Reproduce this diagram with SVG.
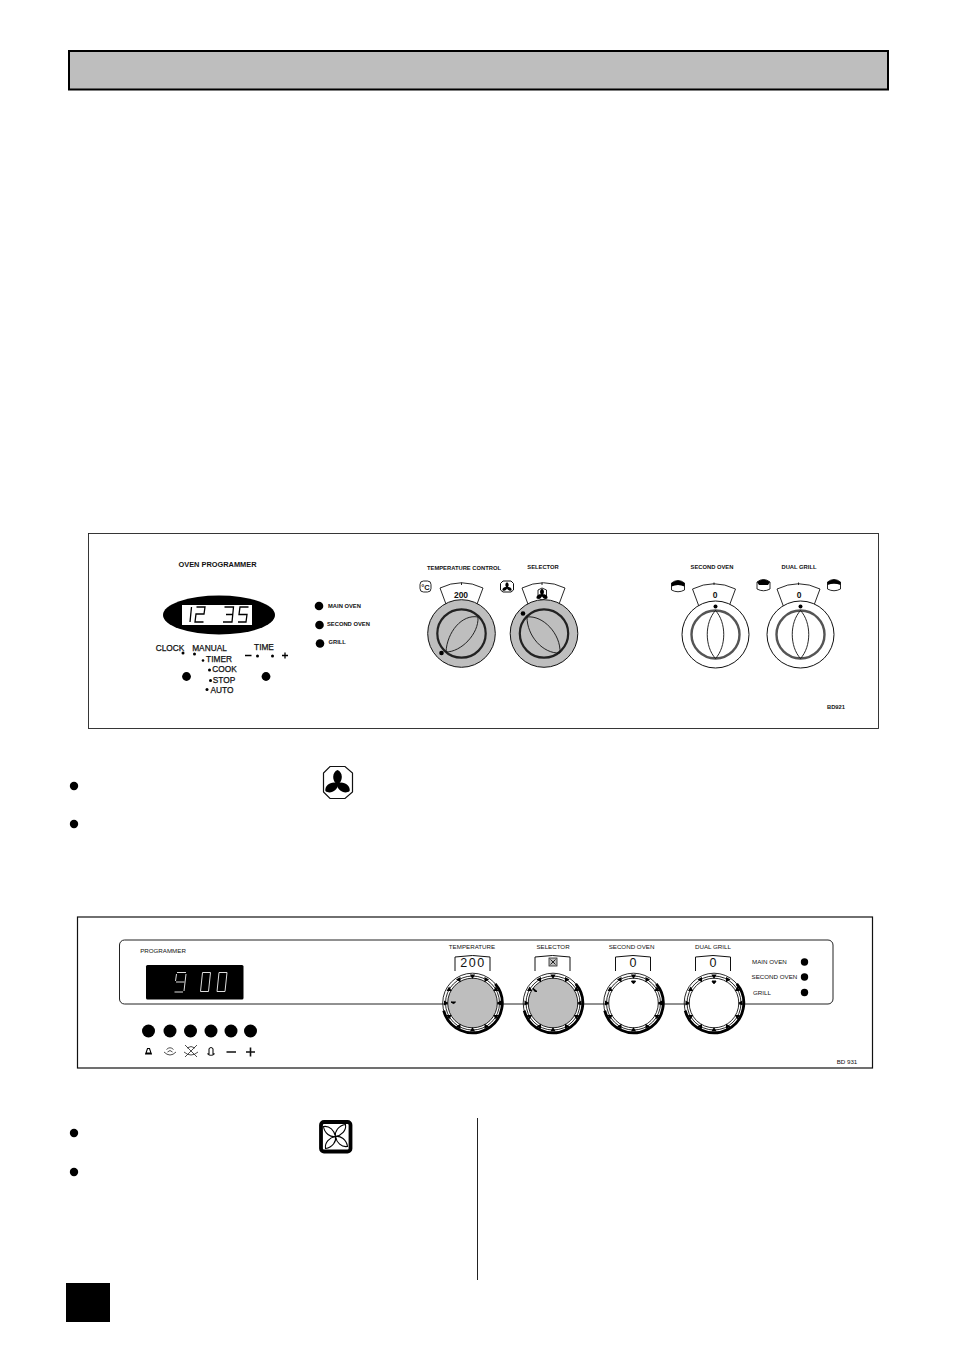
<svg xmlns="http://www.w3.org/2000/svg" xmlns:xlink="http://www.w3.org/1999/xlink" width="954" height="1351" viewBox="0 0 954 1351">
<style>
text{font-family:"Liberation Sans",Arial,sans-serif;fill:#111;text-anchor:middle}
.a{font-size:5.8px;font-weight:bold}
.b{font-size:8.300px;stroke:#111;stroke-width:.25}
.c{font-size:6.200px}
.l{text-anchor:start}
.thin{fill:none;stroke:#111;stroke-width:.9}
.seg{fill:none;stroke:#000;stroke-width:1.300}
.segw{fill:none;stroke:#ddd;stroke-width:1}
.k{fill:#000}
</style>
<defs>
<g id="knob1">
<circle r="33.800" fill="#bebebe" stroke="#111" stroke-width="1"/>
<circle r="24.200" fill="#bebebe" stroke="#222" stroke-width="2.200"/>
</g>
<g id="knob1w">
<circle r="33.500" fill="#fff" stroke="#111" stroke-width="1"/>
<circle r="24" fill="#fff" stroke="#555" stroke-width="2.400"/>
<path class="thin" d="M0-24C-11-12-11 12 0 24C11 12 11-12 0-24Z"/>
<circle cy="-28" r="2" class="k"/>
</g>
<path id="tab1" d="M-15-28-21.500-45.500Q0-56 21.500-45.500L15-28" fill="#fff" stroke="#111" stroke-width=".9"/>
<g id="ring">
<circle r="29.800" class="thin"/>
<circle r="27" class="thin"/>
<circle r="24.800" class="thin"/>
<path d="M22.800-19.200A29.800 29.800 0 1 1-28.800 7.700" fill="none" stroke="#000" stroke-width="2.800"/>
<g class="k">
<path id="t" d="M-2.600-28.500H2.600L0-24Z"/>
<use xlink:href="#t" transform="rotate(30)"/><use xlink:href="#t" transform="rotate(60)"/><use xlink:href="#t" transform="rotate(90)"/><use xlink:href="#t" transform="rotate(120)"/><use xlink:href="#t" transform="rotate(150)"/><use xlink:href="#t" transform="rotate(180)"/><use xlink:href="#t" transform="rotate(210)"/><use xlink:href="#t" transform="rotate(240)"/><use xlink:href="#t" transform="rotate(270)"/><use xlink:href="#t" transform="rotate(300)"/><use xlink:href="#t" transform="rotate(330)"/>
</g>
</g>
<path id="tab2" d="M-17.500 0V-14Q0-17 17.500-14V0" fill="#fff" stroke="#111" stroke-width="1"/>
<g id="fan"><path id="blade" d="M0 1C-6-3-5.500-12 0-14C5.500-12 6-3 0 1Z"/><use xlink:href="#blade" transform="rotate(120)"/><use xlink:href="#blade" transform="rotate(240)"/></g>
<path id="pot" d="M-6.500-3Q0-8 6.500-3V4Q0 7.500-6.500 4Z" fill="#fff" stroke="#111" stroke-width=".9"/>
<path id="leaf" d="M0 0C-1-5 3-11 10-12C11-6 6-1 0 0Z" fill="#fff" stroke="#000" stroke-width="1.100"/>
</defs>

<rect id="header" x="69" y="51" width="819" height="38.500" fill="#bebebe" stroke="#000" stroke-width="2"/>

<g id="panel-1">
<rect x="88.500" y="533.500" width="790" height="195" fill="#fff" stroke="#222" stroke-width=".9"/>
<text x="217.500" y="567" font-size="7.400" font-weight="bold">OVEN PROGRAMMER</text>
<g id="clock-display">
<ellipse cx="219" cy="615" rx="56" ry="19.500" class="k"/>
<rect x="182" y="605" width="70" height="20" fill="#fff"/>
<path class="seg" d="M191.500 607 190 622"/>
<path class="seg" d="M196.500 607H205L204 614H196L195 622H203.500"/>
<path class="seg" d="M224.500 607H233.500L232 622H223M226 614.500H232.500"/>
<path class="seg" d="M248.500 607H240L239 614.500H247L246 622H238"/>
</g>
<g id="programmer-labels">
<text x="170" y="651" class="b">CLOCK</text>
<text x="209.500" y="651" class="b">MANUAL</text>
<text x="264" y="650" class="b">TIME</text>
<text x="219" y="662" class="b">TIMER</text>
<text x="224.500" y="672" class="b">COOK</text>
<text x="224" y="682.500" class="b">STOP</text>
<text x="222" y="692.500" class="b">AUTO</text>
<path d="M245 655.500H251.500M282 655.500H288M285 652.500V658.500" stroke="#000" stroke-width="1.300" fill="none"/>
<g class="k">
<circle cx="183" cy="653" r="1.500"/><circle cx="194.500" cy="654" r="1.500"/><circle cx="257.500" cy="656" r="1.500"/><circle cx="272.500" cy="656" r="1.500"/>
<circle cx="203" cy="660.500" r="1.300"/><circle cx="209.500" cy="670" r="1.500"/><circle cx="210.500" cy="680.500" r="1.500"/><circle cx="207" cy="689.500" r="1.500"/>
<circle cx="186.500" cy="676.500" r="4.400"/><circle cx="266" cy="676.500" r="4.400"/>
</g>
</g>
<g id="indicators-1">
<circle cx="319" cy="606" r="4.300" class="k"/><circle cx="319.500" cy="625" r="4.300" class="k"/><circle cx="320" cy="643.500" r="4.300" class="k"/>
<text x="328" y="607.500" class="a l">MAIN OVEN</text>
<text x="327" y="625.500" class="a l">SECOND OVEN</text>
<text x="328.500" y="644" class="a l">GRILL</text>
</g>
<g id="temperature-control">
<text x="464" y="569.500" class="a">TEMPERATURE CONTROL</text>
<rect x="420" y="581" width="11" height="11" rx="3.500" fill="#fff" stroke="#111" stroke-width=".9"/>
<text x="425.500" y="589.500" font-size="7.500" font-weight="bold">°C</text>
<use xlink:href="#tab1" x="461.500" y="633.500"/>
<path class="thin" d="M461.500 582.500V585"/>
<text x="461" y="597.500" font-size="8.500" font-weight="bold">200</text>
<use xlink:href="#knob1" x="461.500" y="633.500"/>
<path class="thin" d="M446 652C447 632 462 614 478 617C479 634 461 652 446 652Z"/>
<circle cx="441.500" cy="653" r="2.300" class="k"/>
</g>
<g id="selector">
<text x="543" y="569" class="a">SELECTOR</text>
<path d="M503 581H511L513.500 583.500V590L511 592H503L500.500 590V583.500Z" fill="#fff" stroke="#111"/>
<use xlink:href="#fan" transform="translate(507,587.500) scale(.38)" class="k"/>
<use xlink:href="#tab1" x="543.500" y="633.500"/>
<path class="thin" d="M542 582.500V585"/>
<path d="M538 590V598L542 600L546.500 598V590L542 588Z" fill="#fff" stroke="#111" stroke-width=".9"/>
<use xlink:href="#fan" transform="translate(542,595) scale(.45)" class="k"/>
<use xlink:href="#knob1" x="544" y="633.500"/>
<path class="thin" d="M527 617C543 615 561 634 560 653C543 654 527 636 527 617Z"/>
<circle cx="523" cy="613.500" r="2.300" class="k"/>
</g>
<g id="second-oven">
<text x="712" y="569" class="a">SECOND OVEN</text>
<use xlink:href="#pot" x="678" y="586"/>
<path d="M671.500 583Q678 578 684.500 583V586.500Q678 583.500 671.500 586.500Z" class="k"/>
<use xlink:href="#tab1" x="714" y="634.500"/>
<path class="thin" d="M714 582.500V585"/>
<text x="715" y="597.500" font-size="8.500" font-weight="bold">0</text>
<use xlink:href="#knob1w" x="715.500" y="634.500"/>
</g>
<g id="dual-grill">
<text x="799" y="569" class="a">DUAL GRILL</text>
<use xlink:href="#pot" x="763.500" y="585"/>
<path d="M757 582Q763.500 577 770 582L768 585H759Z" class="k"/>
<use xlink:href="#pot" x="834" y="585"/>
<path d="M827.500 582Q834 577 840.500 582V585Q834 582.500 827.500 585Z" class="k"/>
<use xlink:href="#tab1" x="798.500" y="634.500"/>
<path class="thin" d="M798.500 582.500V585"/>
<text x="799" y="597.500" font-size="8.500" font-weight="bold">0</text>
<use xlink:href="#knob1w" x="800.500" y="634.500"/>
</g>
<text x="836" y="708.500" class="a">BD921</text>
</g>

<g id="bullets">
<circle cx="74" cy="786" r="4.200" class="k"/><circle cx="74" cy="824" r="4.200" class="k"/>
<circle cx="74" cy="1133" r="4.200" class="k"/><circle cx="74" cy="1172" r="4.200" class="k"/>
</g>
<g id="fan-icon">
<path d="M330 766.500H345L352.500 773V792L345 798.500H330L323.500 792V773Z" fill="#fff" stroke="#111" stroke-width="1.200"/>
<use xlink:href="#fan" class="k" x="337.500" y="784"/>
</g>

<g id="panel-2">
<rect x="77.500" y="917" width="795" height="151" fill="#fff" stroke="#111" stroke-width="1.200"/>
<rect x="119.500" y="940" width="713.500" height="64" rx="5" fill="#fff" stroke="#222" stroke-width="1"/>
<text x="163" y="952.500" class="c">PROGRAMMER</text>
<g id="display-2">
<rect x="146" y="965" width="97.500" height="34.500" rx="1.500" class="k"/>
<path class="segw" d="M177 972.500H186M176.500 974 175.500 981M176 982H184.500M186 974 184 991M174.500 992H183"/>
<path class="segw" d="M202.500 972.500H210.500L208.500 991.500H200.500ZM219 972.500H227L225 991.500H217Z"/>
</g>
<g id="buttons-2" class="k">
<circle cx="148.500" cy="1031" r="6.500"/><circle cx="170" cy="1031" r="6.500"/><circle cx="190.500" cy="1031" r="6.500"/><circle cx="211" cy="1031" r="6.500"/><circle cx="231" cy="1031" r="6.500"/><circle cx="250.500" cy="1031" r="6.500"/>
</g>
<g id="button-icons">
<path d="M147.500 1048.500H149.500L151 1053H146ZM145 1054H152" fill="#fff" stroke="#000" stroke-width="1.100"/>
<path d="M164 1052Q170 1058 176 1052M166.500 1049.500Q170 1046 173.500 1049.500M167.500 1052Q170 1049 172.500 1052" fill="none" stroke="#222" stroke-width=".8"/>
<path d="M185 1045 197 1057M197 1045 185 1057M184 1052Q191 1058 198 1052M187 1048Q191 1045 195 1048" fill="none" stroke="#222" stroke-width=".8"/>
<path d="M209 1055V1049Q211 1046 213 1049V1055M207.500 1053.500Q211 1057 214.500 1053.500" fill="none" stroke="#111" stroke-width="1.100"/>
<path d="M226.500 1052H236M246 1052H255M250.500 1047.500V1056.500" fill="none" stroke="#111" stroke-width="1.600"/>
</g>
<g id="temperature-2">
<text x="472" y="949" class="c">TEMPERATURE</text>
<use xlink:href="#tab2" x="472.500" y="971"/>
<text x="473" y="967" font-size="12.500" letter-spacing="1.500">200</text>
<circle cx="472.500" cy="1003" r="25" fill="#bebebe"/>
<use xlink:href="#ring" x="472.500" y="1003"/>
<path d="M451 1002H455.500Q454 1005 451 1002Z" class="k" stroke="#000"/>
</g>
<g id="selector-2">
<text x="553" y="949" class="c">SELECTOR</text>
<use xlink:href="#tab2" x="552.500" y="971"/>
<rect x="549" y="958" width="8" height="8" fill="#bebebe" stroke="#222" stroke-width=".8"/>
<path class="thin" d="M550.500 959.500 555.500 964.500M555.500 959.500 550.500 964.500"/>
<circle cx="553" cy="1003" r="25" fill="#bebebe"/>
<use xlink:href="#ring" x="553" y="1003"/>
<path d="M533 988L537 991.500Q534 992.500 533 988Z" class="k" stroke="#000"/>
</g>
<g id="second-oven-2">
<text x="631.500" y="949" class="c">SECOND OVEN</text>
<use xlink:href="#tab2" x="633" y="971"/>
<text x="633" y="967" font-size="12.500">0</text>
<circle cx="633.500" cy="1003" r="25" fill="#fff"/>
<use xlink:href="#ring" x="633.500" y="1003"/>
<path d="M631.500 981Q633.500 986 635.500 981Z" class="k" stroke="#000"/>
</g>
<g id="dual-grill-2">
<text x="713" y="949" class="c">DUAL GRILL</text>
<use xlink:href="#tab2" x="713" y="971"/>
<text x="713" y="967" font-size="12.500">0</text>
<circle cx="714" cy="1003" r="25" fill="#fff"/>
<use xlink:href="#ring" x="714" y="1003"/>
<path d="M712 981Q714 986 716 981Z" class="k" stroke="#000"/>
</g>
<g id="indicators-2">
<circle cx="804.500" cy="962" r="3.700" class="k"/><circle cx="804.500" cy="977" r="3.700" class="k"/><circle cx="804.500" cy="992.500" r="3.700" class="k"/>
<text x="752" y="964" class="c l">MAIN OVEN</text>
<text x="751.500" y="979" class="c l">SECOND OVEN</text>
<text x="753" y="994.500" class="c l">GRILL</text>
</g>
<text x="847" y="1064" class="c">BD 931</text>
</g>

<g id="fan-icon-2">
<rect x="321" y="1122" width="29.500" height="29.500" rx="3" fill="#fff" stroke="#000" stroke-width="3.800"/>
<use xlink:href="#leaf" x="335.500" y="1136.500"/>
<use xlink:href="#leaf" transform="translate(335.500,1136.500) rotate(90)"/>
<use xlink:href="#leaf" transform="translate(335.500,1136.500) rotate(180)"/>
<use xlink:href="#leaf" transform="translate(335.500,1136.500) rotate(270)"/>
</g>

<path id="divider" d="M477.500 1118V1280" stroke="#222" stroke-width="1"/>
<rect id="page-number-box" x="66" y="1283" width="44" height="39" fill="#000"/>
</svg>
